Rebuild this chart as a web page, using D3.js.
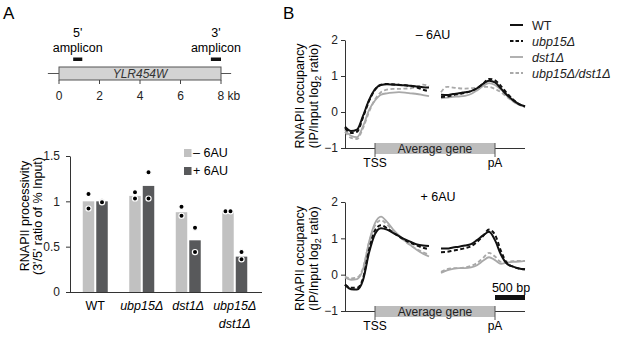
<!DOCTYPE html>
<html>
<head>
<meta charset="utf-8">
<script src="https://cdn.jsdelivr.net/npm/d3@7"></script>
<style>
  body { margin: 0; background: #fff; }
  svg { display: block; font-family: "Liberation Sans", Arial, sans-serif; }
  .ax path, .ax line { stroke: #333; }
  .ax text { font-size: 12px; fill: #222; font-family: "Liberation Sans", Arial, sans-serif; }
</style>
</head>
<body>
<svg id="fig" width="617" height="338"></svg>
<script>
// ---- data ----
// gene diagram (kb)
const geneName = 'YLR454W';
const geneLengthKb = 8;
const geneTicks = [0, 2, 4, 6, 8];
const amplicon5 = [0.7, 1.15];
const amplicon3 = [7.5, 8.0];

// bar chart: processivity
const genotypes = ['WT', 'ubp15Δ', 'dst1Δ', 'ubp15Δ dst1Δ'];
const barMinus6AU = [1.0, 1.06, 0.88, 0.88];
const barPlus6AU = [1.0, 1.17, 0.57, 0.39];
const dotsMinus6AU = [[1.08, 0.92], [1.10, 1.03], [0.94, 0.84], [0.89, 0.89]];
const dotsPlus6AU = [[1.0, 0.99], [1.32, 1.03], [0.71, 0.44], [0.44, 0.36]];
const barTicks = [0, 0.5, 1, 1.5];

// metagene profiles: position in bp on a composite axis (TSS = 0, pA = 2000)
const posLeft = [-500, -400, -300, -200, -100, 0, 100, 200, 300, 400, 500, 600, 700, 800, 900];
const posRight = [1100, 1200, 1300, 1400, 1500, 1600, 1700, 1800, 1900, 2000, 2100, 2200, 2300, 2400, 2500];
const seriesNames = ['WT', 'ubp15Δ', 'dst1Δ', 'ubp15Δ/dst1Δ'];

const minusLeft = [
  [-0.41, -0.53, -0.49, -0.11, 0.33, 0.63, 0.75, 0.77, 0.76, 0.75, 0.74, 0.73, 0.71, 0.69, 0.68],
  [-0.45, -0.58, -0.55, -0.15, 0.30, 0.62, 0.76, 0.78, 0.77, 0.76, 0.74, 0.72, 0.68, 0.62, 0.58],
  [-0.50, -0.66, -0.70, -0.40, 0.05, 0.32, 0.48, 0.52, 0.54, 0.55, 0.54, 0.52, 0.50, 0.47, 0.44],
  [-0.55, -0.72, -0.75, -0.45, 0.00, 0.35, 0.55, 0.62, 0.64, 0.64, 0.65, 0.66, 0.70, 0.76, 0.72]
];
const minusRight = [
  [0.48, 0.47, 0.50, 0.52, 0.55, 0.58, 0.66, 0.78, 0.87, 0.82, 0.65, 0.47, 0.33, 0.22, 0.16],
  [0.42, 0.43, 0.47, 0.50, 0.53, 0.58, 0.66, 0.78, 0.92, 0.88, 0.72, 0.52, 0.35, 0.22, 0.15],
  [0.38, 0.40, 0.42, 0.43, 0.45, 0.50, 0.60, 0.72, 0.80, 0.75, 0.62, 0.45, 0.30, 0.20, 0.15],
  [0.55, 0.70, 0.68, 0.66, 0.65, 0.66, 0.68, 0.70, 0.70, 0.64, 0.55, 0.42, 0.30, 0.20, 0.15]
];
const plusLeft = [
  [-0.27, -0.40, -0.41, -0.15, 0.60, 1.12, 1.28, 1.24, 1.15, 1.06, 0.97, 0.90, 0.83, 0.80, 0.79],
  [-0.28, -0.36, -0.36, -0.10, 0.68, 1.22, 1.36, 1.28, 1.16, 1.05, 0.95, 0.87, 0.80, 0.74, 0.70],
  [-0.08, -0.14, -0.12, 0.15, 0.90, 1.42, 1.60, 1.45, 1.25, 1.08, 0.93, 0.80, 0.68, 0.58, 0.50],
  [-0.05, -0.10, -0.08, 0.18, 0.88, 1.35, 1.50, 1.38, 1.22, 1.06, 0.92, 0.80, 0.70, 0.62, 0.55]
];
const plusRight = [
  [0.72, 0.72, 0.75, 0.77, 0.80, 0.84, 0.95, 1.08, 1.18, 0.95, 0.55, 0.30, 0.22, 0.17, 0.15],
  [0.62, 0.63, 0.66, 0.69, 0.73, 0.78, 0.90, 1.06, 1.24, 1.10, 0.65, 0.32, 0.22, 0.17, 0.15],
  [0.05, 0.12, 0.16, 0.18, 0.18, 0.20, 0.26, 0.38, 0.48, 0.40, 0.30, 0.33, 0.35, 0.36, 0.38],
  [0.08, 0.15, 0.18, 0.18, 0.20, 0.24, 0.32, 0.46, 0.60, 0.50, 0.35, 0.36, 0.37, 0.38, 0.38]
];
const profileTicks = [-1, 0, 1, 2];
const geneLandmarks = [{pos: 0, label: 'TSS'}, {pos: 2000, label: 'pA'}];
const scaleBarBp = [2000, 2500];

// ---- styles ----
const lightGray = '#c1c1c1', darkGray = '#58595b';
const seriesStyle = [
  {color: '#111', dash: null, width: 2},
  {color: '#111', dash: '4,2.5', width: 2},
  {color: '#a9a9a9', dash: null, width: 1.8},
  {color: '#a9a9a9', dash: '4,2.5', width: 1.8}
];

const svg = d3.select('#fig');
const italic = s => s !== 'WT';

// panel letters
svg.append('text').attr('x', 3).attr('y', 19).attr('font-size', 17).text('A');
svg.append('text').attr('x', 283).attr('y', 19).attr('font-size', 17).text('B');

// ===== gene diagram =====
const xKb = d3.scaleLinear().domain([0, geneLengthKb]).range([59, 221]);
const gG = svg.append('g');
gG.append('line').attr('x1', xKb(-0.55)).attr('x2', xKb(8.5)).attr('y1', 73.5).attr('y2', 73.5)
  .attr('stroke', '#555').attr('stroke-width', 1);
gG.append('rect').attr('x', xKb(0)).attr('y', 67).attr('width', xKb(geneLengthKb) - xKb(0)).attr('height', 13)
  .attr('fill', '#d3d3d3').attr('stroke', '#555').attr('stroke-width', 1);
gG.append('text').attr('x', xKb(geneLengthKb / 2)).attr('y', 78).attr('text-anchor', 'middle')
  .attr('font-size', 12).attr('font-style', 'italic').attr('fill', '#333').text(geneName);
geneTicks.forEach(t => {
  gG.append('line').attr('x1', xKb(t)).attr('x2', xKb(t)).attr('y1', 80).attr('y2', 84)
    .attr('stroke', '#444');
  const lab = gG.append('text').attr('y', 100).attr('font-size', 12).attr('fill', '#222');
  if (t === geneLengthKb) lab.attr('x', xKb(t) - 3.5).text(t + ' kb');
  else lab.attr('x', xKb(t)).attr('text-anchor', 'middle').text(t);
});
[[amplicon5, "5'"], [amplicon3, "3'"]].forEach(([a, lab]) => {
  gG.append('rect').attr('x', xKb(a[0])).attr('y', 57.5).attr('width', xKb(a[1]) - xKb(a[0])).attr('height', 3.5)
    .attr('fill', '#111');
  const cx = (xKb(a[0]) + xKb(a[1])) / 2;
  gG.append('text').attr('x', cx).attr('y', 37).attr('text-anchor', 'middle').attr('font-size', 12.5).text(lab);
  gG.append('text').attr('x', cx).attr('y', 52).attr('text-anchor', 'middle').attr('font-size', 12.5).text('amplicon');
});

// ===== bar chart =====
const yBar = d3.scaleLinear().domain([0, 1.5]).range([292, 156]);
const xGrp = d3.scaleBand().domain(genotypes).range([72, 258]);
const xSub = d3.scaleBand().domain(['minus', 'plus']).range([-12.5, 12.5]).paddingInner(0.15);
const bG = svg.append('g');

bG.append('g').attr('class', 'ax').attr('transform', 'translate(70,0)')
  .call(d3.axisLeft(yBar).tickValues(barTicks).tickFormat(d => d).tickSize(4).tickSizeOuter(0))
  .call(g => g.selectAll('text').attr('dx', -3));
bG.append('line').attr('x1', 70).attr('x2', 262).attr('y1', 292.5).attr('y2', 292.5).attr('stroke', '#333');

const barRows = genotypes.map((g, i) => [
  {g, key: 'minus', v: barMinus6AU[i], dots: dotsMinus6AU[i], fill: lightGray},
  {g, key: 'plus', v: barPlus6AU[i], dots: dotsPlus6AU[i], fill: darkGray}
]).flat();

bG.selectAll('rect.bar').data(barRows).join('rect').attr('class', 'bar')
  .attr('x', d => xGrp(d.g) + xGrp.bandwidth() / 2 + xSub(d.key))
  .attr('width', xSub.bandwidth())
  .attr('y', d => yBar(d.v)).attr('height', d => yBar(0) - yBar(d.v))
  .attr('fill', d => d.fill);

barRows.forEach(d => {
  const cx = xGrp(d.g) + xGrp.bandwidth() / 2 + xSub(d.key) + xSub.bandwidth() / 2;
  const same = d.dots[0] === d.dots[1];
  d.dots.forEach((v, j) => {
    bG.append('circle').attr('cx', same ? cx + (j ? 2.5 : -2.5) : cx).attr('cy', yBar(v)).attr('r', 2.6)
      .attr('fill', '#000').attr('stroke', '#fff').attr('stroke-width', 1.2);
  });
});

// x labels
genotypes.forEach(g => {
  const cx = xGrp(g) + xGrp.bandwidth() / 2;
  const lines = g.split(' ');
  lines.forEach((ln, k) => {
    bG.append('text').attr('x', cx).attr('y', 310 + k * 18).attr('text-anchor', 'middle')
      .attr('font-size', 12.5).attr('font-style', italic(g) ? 'italic' : 'normal').text(ln);
  });
});

// y label
const bl = bG.append('text').attr('transform', 'translate(0,216) rotate(-90)')
  .attr('text-anchor', 'middle').attr('font-size', 12.5);
bl.append('tspan').attr('x', 0).attr('y', 29).text('RNAPII processivity');
bl.append('tspan').attr('x', 0).attr('y', 42).text("(3'/5' ratio of % Input)");

// legend
[['– 6AU', lightGray, 149], ['+ 6AU', darkGray, 167]].forEach(([t, c, y]) => {
  bG.append('rect').attr('x', 184).attr('y', y).attr('width', 7.5).attr('height', 8).attr('fill', c);
  bG.append('text').attr('x', 193).attr('y', y + 8).attr('font-size', 12.5).text(t);
});

// ===== metagene panels =====
const xPos = d3.scaleLinear().domain([-500, 2500]).range([345, 525]);

function profilePanel(yTop, yBot, title, titleX, leftData, rightData, withScaleBar) {
  const y = d3.scaleLinear().domain([-1, 2]).range([yBot, yTop]);
  const g = svg.append('g');
  g.append('g').attr('class', 'ax').attr('transform', 'translate(345,0)')
    .call(d3.axisLeft(y).tickValues(profileTicks).tickFormat(d => d < 0 ? '−' + Math.abs(d) : d)
      .tickSize(4).tickSizeOuter(0));
  g.append('line').attr('x1', 345).attr('x2', 525).attr('y1', yBot + 0.5).attr('y2', yBot + 0.5).attr('stroke', '#333');

  // average gene bar
  g.append('rect').attr('x', xPos(0)).attr('y', yBot - 5).attr('width', xPos(2000) - xPos(0)).attr('height', 11)
    .attr('fill', '#bdbdbd');
  g.append('text').attr('x', xPos(1000)).attr('y', yBot + 4.5).attr('text-anchor', 'middle')
    .attr('font-size', 12).attr('fill', '#222').text('Average gene');
  geneLandmarks.forEach(m => {
    g.append('line').attr('x1', xPos(m.pos)).attr('x2', xPos(m.pos)).attr('y1', yBot - 5).attr('y2', yBot + 9)
      .attr('stroke', '#555');
    g.append('text').attr('x', xPos(m.pos)).attr('y', yBot + 19).attr('text-anchor', 'middle')
      .attr('font-size', 12).text(m.label);
  });

  const line = d3.line().x(d => xPos(d[0])).y(d => y(d[1])).curve(d3.curveMonotoneX);
  [3, 2, 1, 0].forEach(i => {
    const st = seriesStyle[i];
    [[posLeft, leftData[i]], [posRight, rightData[i]]].forEach(([xs, vs]) => {
      g.append('path').datum(xs.map((p, k) => [p, vs[k]])).attr('d', line)
        .attr('fill', 'none').attr('stroke', st.color).attr('stroke-width', st.width)
        .attr('stroke-dasharray', st.dash);
    });
  });

  g.append('text').attr('x', titleX).attr('y', yTop - 1).attr('text-anchor', 'middle')
    .attr('font-size', 12.5).text(title);

  const yl = g.append('text').attr('transform', `translate(0,${(yTop + yBot) / 2 + 2}) rotate(-90)`)
    .attr('text-anchor', 'middle').attr('font-size', 12.5);
  yl.append('tspan').attr('x', 0).attr('y', 304).text('RNAPII occupancy');
  const t2 = yl.append('tspan').attr('x', 0).attr('y', 318);
  t2.append('tspan').text('(IP/Input log');
  t2.append('tspan').attr('font-size', 9).attr('dy', 3).text('2');
  t2.append('tspan').attr('dy', -3).text(' ratio)');

  if (withScaleBar) {
    g.append('rect').attr('x', xPos(scaleBarBp[0])).attr('y', yBot - 16).attr('width', xPos(scaleBarBp[1]) - xPos(scaleBarBp[0]))
      .attr('height', 5).attr('fill', '#111');
    g.append('text').attr('x', (xPos(scaleBarBp[0]) + xPos(scaleBarBp[1])) / 2 + 1).attr('y', yBot - 19)
      .attr('text-anchor', 'middle').attr('font-size', 12.5).text('500 bp');
  }
}

profilePanel(40, 148, '– 6AU', 433, minusLeft, minusRight, false);
profilePanel(202, 311, '+ 6AU', 438, plusLeft, plusRight, true);

// legend for profiles
seriesNames.forEach((n, i) => {
  const st = seriesStyle[i];
  const yy = 25 + i * 16;
  svg.append('line').attr('x1', 510).attr('x2', 523).attr('y1', yy).attr('y2', yy)
    .attr('stroke', st.color).attr('stroke-width', st.width).attr('stroke-dasharray', st.dash ? '3.5,2' : null);
  svg.append('text').attr('x', 532).attr('y', yy + 4.5).attr('font-size', 12.5)
    .attr('font-style', i === 0 ? 'normal' : 'italic').attr('fill', '#222').text(n);
});
</script>
</body>
</html>
